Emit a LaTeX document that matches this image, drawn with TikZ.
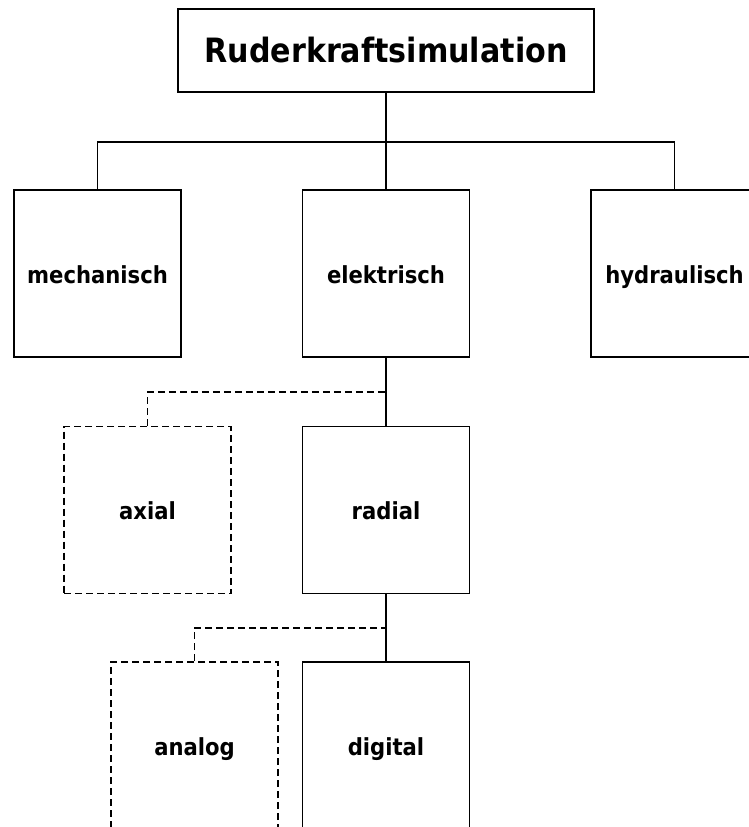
\documentclass[tikz,border=0pt]{standalone}
\usepackage{fontspec}
\setmainfont{DejaVu Sans Condensed}
\begin{document}
\begin{tikzpicture}[x=1pt,y=-1pt,
  box/.style={draw=black,line width=1.8pt,rectangle,minimum width=167pt,minimum height=167pt,inner sep=0pt,
              text height=19pt,text depth=0pt,font=\bfseries\fontsize{23.5}{28}\selectfont},
  optbox/.style={box,dash pattern=on 7pt off 4pt},
  link/.style={draw=black,line width=1.8pt},
  optlink/.style={link,dash pattern=on 7pt off 4pt}]
  \useasboundingbox (0,0) rectangle (749,827);
  \clip (0,0) rectangle (749,827);

  % root
  \node[draw=black,line width=1.8pt,minimum width=416pt,minimum height=83pt,inner sep=0pt,
        text height=23pt,text depth=0pt,
        font=\bfseries\fontsize{33.5}{40}\selectfont] (root) at (386,50.5) {Ruderkraftsimulation};

  % first level
  \node[box] (mech) at (97.5,273.5) {mechanisch};
  \node[box] (elek) at (386,273.5) {elektrisch};
  \node[box] (hyd)  at (674.5,273.5) {hydraulisch};

  % second level
  \node[optbox] (axial)  at (147.5,510) {axial};
  \node[box]    (radial) at (386,510) {radial};

  % third level
  \node[optbox] (analog)  at (194.5,745.5) {analog};
  \node[box]    (digital) at (386,745.5) {digital};

  % bus and junctions
  \coordinate (bus) at (0,142);
  \coordinate (j1) at (386,392);
  \coordinate (j2) at (386,628);

  \path[link] (root.south) -- (root.south |- bus);
  \path[link] (mech.north) -- (mech.north |- bus) -- (hyd.north |- bus) -- (hyd.north);
  \path[link] (root.south |- bus) -- (elek.north);

  \path[link] (elek.south) -- (radial.north);
  \path[optlink] (axial.north) |- (j1);

  \path[link] (radial.south) -- (digital.north);
  \path[optlink] (analog.north) |- (j2);
\end{tikzpicture}
\end{document}
